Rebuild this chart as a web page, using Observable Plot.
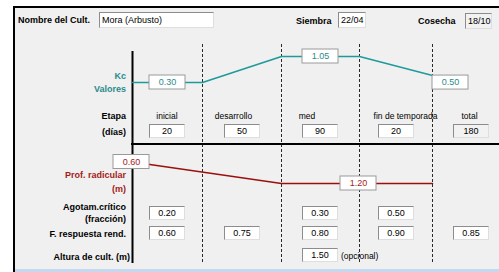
<!DOCTYPE html>
<html><head><meta charset="utf-8">
<script src="https://cdn.jsdelivr.net/npm/d3@7"></script>
<script src="https://cdn.jsdelivr.net/npm/@observablehq/plot@0.6"></script>
<style>
html,body{margin:0;padding:0;background:#fff;}
#wrap{position:relative;width:499px;height:272px;overflow:hidden;font-family:"Liberation Sans",Arial,sans-serif;color:#000;}
.abs{position:absolute;}
.lbl{position:absolute;font-size:9px;font-weight:bold;white-space:nowrap;line-height:12px;height:12px;}
.box{position:absolute;box-sizing:border-box;background:#fff;border:1px solid;border-color:#8c8c8c #dedede #dedede #8c8c8c;font-size:9px;white-space:nowrap;overflow:hidden;}
</style></head><body>
<div id="wrap">
 <div class="abs" style="left:13px;top:6px;width:486px;height:266px;background:#f0f0f0;border-top:2px solid #000;border-left:2px solid #000;box-sizing:border-box;"></div>
 <div class="abs" style="left:15px;top:269px;width:484px;height:3px;background:#c4d8ef;"></div>
</div>
<script>
// ---------- data ----------
const cropName = "Mora (Arbusto)";
const plantingDate = "22/04";
const harvestDate = "18/10";
const stageNames = ["inicial", "desarrollo", "med", "fin de temporada"];
const stageDays = [20, 50, 90, 20];
const totalName = "total";
const totalDays = 180;
const stageBounds = [1, 2, 3, 4];
const kcStage = [0, 1, 2, 3, 4];
const kcValues = [0.30, 0.30, 1.05, 1.05, 0.50];
const kcLabelStage = [0.5, 2.5];
const kcLabelValues = [0.30, 1.05];
const kcEndStage = [4];
const kcEndValues = [0.50];
const rootStage = [0, 2, 4];
const rootValues = [0.60, 1.20, 1.20];
const rootLabelStage = [0, 3];
const rootLabelValues = [0.60, 1.20];
const depletion = [0.20, null, 0.30, 0.50];
const yieldResponse = [0.60, 0.75, 0.80, 0.90];
const yieldResponseTotal = 0.85;
const cropHeight = [null, null, 1.50, null];

// ---------- styles ----------
const TEAL = "#1f9a9a", TEAL_TXT = "#2b8b8b";
const RED = "#9c0f0f", RED_TXT = "#a31a1a";
const FONT = "Liberation Sans, Arial, sans-serif";
const wrap = document.getElementById("wrap");

const xOpt = {type: "linear", domain: [0, 1, 2, 3, 4, 5], range: [132, 202, 281, 359, 432, 510], axis: null};

const kcData = kcStage.map((s, i) => ({s, v: kcValues[i]}));
const kcLab = kcLabelStage.map((s, i) => ({s, v: kcLabelValues[i]}));
const kcEnd = kcEndStage.map((s, i) => ({s, v: kcEndValues[i]}));
const rootData = rootStage.map((s, i) => ({s, v: rootValues[i]}));
const rootLab = rootLabelStage.map((s, i) => ({s, v: rootLabelValues[i]}));

const boxStyle = {fill: "#fff", stroke: "#9a9a9a", strokeWidth: 1};

const plotKc = Plot.plot({
  width: 499, height: 272, margin: 0, marginTop: 44, marginBottom: 10,
  x: xOpt,
  y: {domain: [0.30, 1.05], range: [82, 56], axis: null},
  style: {background: "transparent"},
  marks: [
    Plot.ruleX(stageBounds, {stroke: "#2a2a2a", strokeWidth: 1, strokeDasharray: "3,2"}),
    Plot.ruleX([0], {stroke: "#000", strokeWidth: 2, insetTop: 7, insetBottom: -1}),
    Plot.line(kcData, {x: "s", y: "v", stroke: TEAL, strokeWidth: 1.6}),
    Plot.rect(kcLab, {x1: "s", x2: "s", y1: "v", y2: "v", insetLeft: -18, insetRight: -18, insetTop: -7, insetBottom: -7, ...boxStyle}),
    Plot.text(kcLab, {x: "s", y: "v", text: d => d.v.toFixed(2), fill: TEAL_TXT, fontSize: 9, fontFamily: FONT}),
    Plot.rect(kcEnd, {x1: "s", x2: "s", y1: "v", y2: "v", insetLeft: 0, insetRight: -36, insetTop: 0, insetBottom: -14, ...boxStyle}),
    Plot.text(kcEnd, {x: "s", y: "v", dx: 18, dy: 7, text: d => d.v.toFixed(2), fill: TEAL_TXT, fontSize: 9, fontFamily: FONT})
  ]
});
plotKc.style.position = "absolute"; plotKc.style.left = "0px"; plotKc.style.top = "0px";
wrap.appendChild(plotKc);

// separator between Kc and root panels
const sep = document.createElement("div");
sep.className = "abs";
sep.style.cssText = "left:131px;top:143px;width:368px;height:2px;background:#000;";
wrap.appendChild(sep);

const plotRoot = Plot.plot({
  width: 499, height: 272, margin: 0,
  x: xOpt,
  y: {domain: [0.60, 1.20], range: [161.5, 183], axis: null},
  style: {background: "transparent"},
  marks: [
    Plot.line(rootData, {x: "s", y: "v", stroke: RED, strokeWidth: 1.6}),
    Plot.rect(rootLab, {x1: "s", x2: "s", y1: "v", y2: "v", insetLeft: -19, insetRight: -17, insetTop: -7, insetBottom: -7, ...boxStyle}),
    Plot.text(rootLab, {x: "s", y: "v", dx: -1, text: d => d.v.toFixed(2), fill: RED_TXT, fontSize: 9, fontFamily: FONT})
  ]
});
plotRoot.style.position = "absolute"; plotRoot.style.left = "0px"; plotRoot.style.top = "0px";
wrap.appendChild(plotRoot);

const xs = v => plotKc.scale("x").apply(v);

// ---------- form helpers ----------
function label(text, x, y, {anchor = "end", color = "#000", bold = true, size = 9} = {}) {
  const d = document.createElement("div");
  d.className = "lbl";
  d.textContent = text;
  d.style.color = color;
  d.style.fontWeight = bold ? "bold" : "normal";
  d.style.fontSize = size + "px";
  d.style.top = (y - 6) + "px";
  if (anchor === "end") { d.style.right = (499 - x) + "px"; d.style.textAlign = "right"; }
  else if (anchor === "start") { d.style.left = x + "px"; }
  else { d.style.left = (x - 60) + "px"; d.style.width = "120px"; d.style.textAlign = "center"; }
  wrap.appendChild(d);
}
function box(text, left, top, {w = 36, h = 14, disabled = false, align = "center", color = "#000"} = {}) {
  const d = document.createElement("div");
  d.className = "box";
  d.textContent = text;
  d.style.left = left + "px"; d.style.top = top + "px";
  d.style.width = w + "px"; d.style.height = h + "px";
  d.style.lineHeight = (h - 2) + "px";
  d.style.textAlign = align;
  d.style.color = color;
  if (align === "left") d.style.paddingLeft = "2px";
  if (disabled) d.style.background = "#f2f2f2";
  wrap.appendChild(d);
}
const colBox = (i, top, text, opts) => box(text, Math.round(xs(i + 0.5) - 18), top, opts);

// ---------- header ----------
label("Nombre del Cult.", 18, 20, {anchor: "start"});
box(cropName, 99, 12, {w: 115, h: 16, align: "left"});
label("Siembra", 296, 21, {anchor: "start"});
box(plantingDate, 338, 12, {w: 28, h: 16, align: "left"});
label("Cosecha", 418, 21, {anchor: "start"});
box(harvestDate, 465, 13, {w: 27, h: 16, align: "left", disabled: true});

// ---------- left labels ----------
label("Kc", 126, 76, {color: TEAL_TXT});
label("Valores", 126, 89, {color: TEAL_TXT});
label("Etapa", 126, 116);
label("(días)", 126, 132);
label("Prof. radicular", 126, 175, {color: RED_TXT});
label("(m)", 126, 189, {color: RED_TXT});
label("Agotam.crítico", 126, 207);
label("(fracción)", 126, 219);
label("F. respuesta rend.", 126, 234);
label("Altura de cult. (m)", 130, 257);

// ---------- stage rows ----------
const stageLabelShift = [0, -8, -13, 10, -1.5];
[...stageNames, totalName].forEach((n, i) => label(n, xs(i + 0.5) + stageLabelShift[i], 116, {anchor: "middle", bold: false, size: 8.5}));
stageDays.forEach((d, i) => colBox(i, 124, String(d)));
colBox(4, 124, String(totalDays), {disabled: true});

depletion.forEach((v, i) => { if (v != null) colBox(i, 206, v.toFixed(2)); });
yieldResponse.forEach((v, i) => colBox(i, 226, v.toFixed(2)));
colBox(4, 226, yieldResponseTotal.toFixed(2));
cropHeight.forEach((v, i) => {
  if (v != null) {
    colBox(i, 248, v.toFixed(2));
    label("(opcional)", Math.round(xs(i + 0.5) + 21), 256, {anchor: "start", bold: false, size: 8.5});
  }
});
</script>
</body></html>
